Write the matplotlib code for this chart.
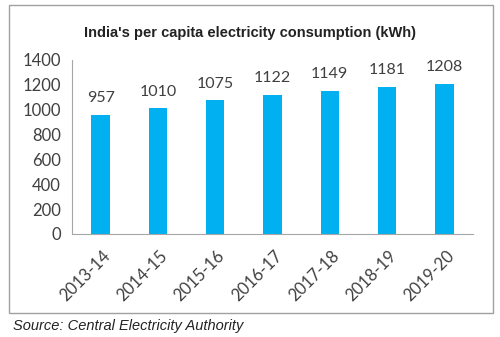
import matplotlib
matplotlib.use("Agg")
import matplotlib.pyplot as plt
import matplotlib.transforms as mtransforms
from matplotlib.patches import Rectangle

years = ["2013-14", "2014-15", "2015-16", "2016-17", "2017-18", "2018-19", "2019-20"]
consumption = [957, 1010, 1075, 1122, 1149, 1181, 1208]
y_ticks = [0, 200, 400, 600, 800, 1000, 1200, 1400]

W, H = 500, 337
fig = plt.figure(figsize=(W / 100, H / 100), dpi=100)

# chart frame
fig.patches.append(Rectangle((9 / W, 1 - 313 / H), 484 / W, 308 / H, transform=fig.transFigure,
                             fill=False, edgecolor="#a0a0a0", linewidth=1))

ax = fig.add_axes([72 / W, 1 - 234 / H, 401 / W, 174 / H])
x = range(len(years))
bars = ax.bar(x, consumption, width=0.32, color="#00b0f0")

for xi, v in zip(x, consumption):
    ax.annotate(str(v), (xi, v), xytext=(0, 7), textcoords="offset points",
                ha="center", va="bottom", fontsize=11.5, family="Lato", color="#404040")

ax.set_xlim(-0.5, len(years) - 0.5)
ax.set_ylim(0, 1400)
ax.set_yticks(y_ticks)
ax.set_yticklabels([str(t) for t in y_ticks], fontsize=12, family="Lato", color="#404040")
ax.set_xticks(list(x))
ax.set_xticklabels(years, rotation=45, ha="right", va="center", rotation_mode="anchor",
                   fontsize=12, family="Lato", color="#404040")
ax.tick_params(length=0, pad=8)
ax.tick_params(axis="x", pad=14)
# nudge the rotated year labels right, like Excel places them
shift = mtransforms.ScaledTranslation(7 / 100, 0, fig.dpi_scale_trans)
for lbl in ax.get_xticklabels():
    lbl.set_transform(lbl.get_transform() + shift)
for side in ["top", "right"]:
    ax.spines[side].set_visible(False)
ax.spines["left"].set_color("#a6a6a6")
ax.spines["bottom"].set_color("#a6a6a6")

fig.text(250 / W, 1 - 33 / H, "India's per capita electricity consumption (kWh)",
         ha="center", va="center", fontsize=10.5, fontweight="bold",
         family="Liberation Sans", color="#222222")
fig.text(13 / W, 1 - 326 / H, "Source: Central Electricity Authority",
         ha="left", va="center", fontsize=10.5, style="italic",
         family="Liberation Sans", color="#222222")

fig.savefig("out.png", dpi=100)
